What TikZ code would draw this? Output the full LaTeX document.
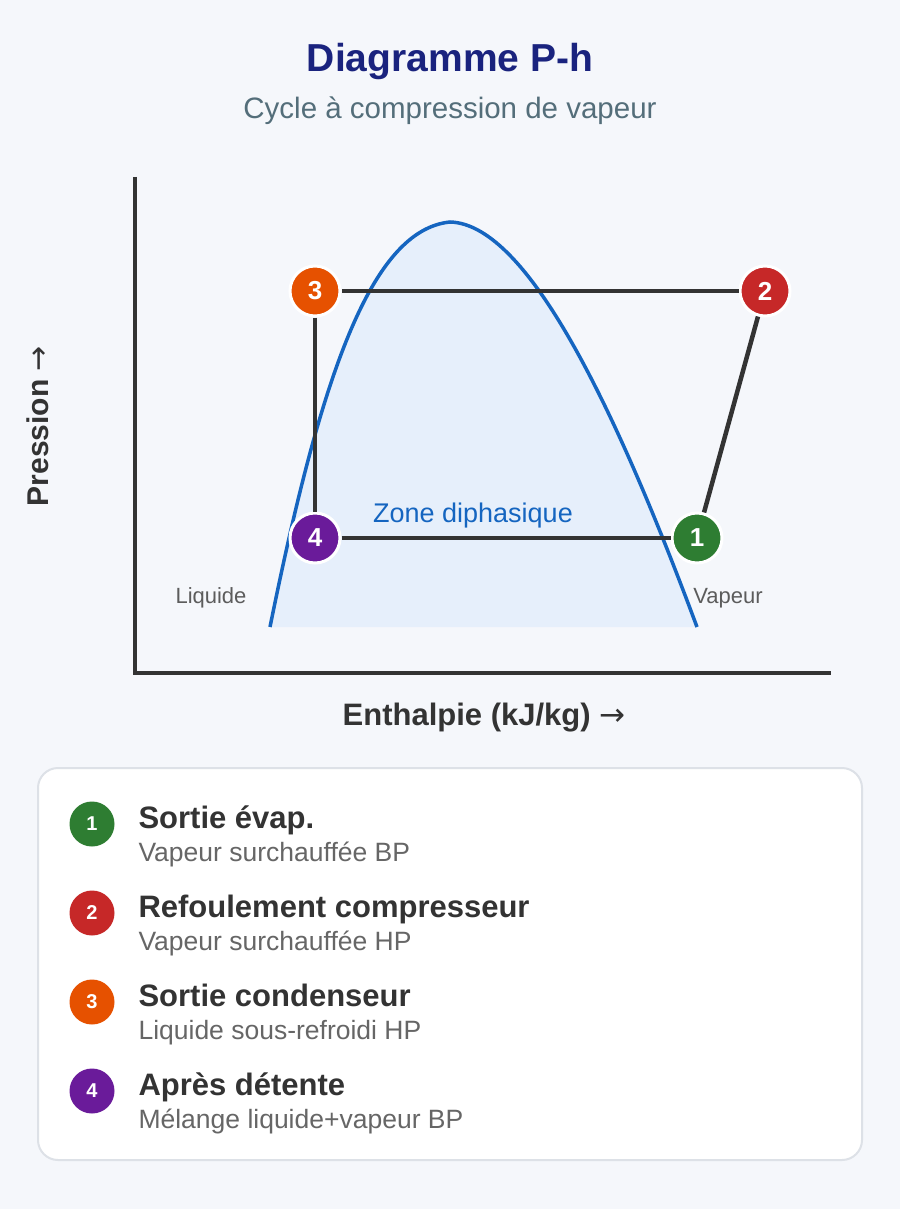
\documentclass[tikz,border=0pt]{standalone}
\usepackage{fontspec}
\setmainfont{Liberation Sans}
\newfontfamily\arrowfont{DejaVu Sans}
\definecolor{bgpage}{HTML}{F5F7FB}
\definecolor{navy}{HTML}{1A237E}
\definecolor{slate}{HTML}{546E7A}
\definecolor{ink}{HTML}{333333}
\definecolor{muted}{HTML}{666666}
\definecolor{domeblue}{HTML}{1565C0}
\definecolor{domefill}{HTML}{E6EFFB}
\definecolor{boxline}{HTML}{DDE1E7}
\definecolor{cgreen}{HTML}{2E7D32}
\definecolor{cred}{HTML}{C62828}
\definecolor{corange}{HTML}{E65100}
\definecolor{cpurple}{HTML}{6A1B9A}
\newcommand\px[1]{\fontsize{#1}{#1}\selectfont}
\newcommand\domecurve{(270,627) .. controls (320,380) and (370,230) .. (450,222) .. controls (530,224) and (620,420) .. (697,627)}

\begin{document}
\begin{tikzpicture}[x=1pt,y=-1pt,
  state/.style={circle,draw=white,line width=3pt,minimum size=50pt,inner sep=0pt,text=white,font=\px{26}\bfseries},
  legdot/.style={circle,minimum size=45pt,inner sep=0pt,text=white,font=\px{20}\bfseries},
  cycleline/.style={draw=ink,line width=4.5pt},
  axisline/.style={draw=ink,line width=4pt},
  side/.style={text=ink!80,font=\px{22}}]
\fill[bgpage] (0,0) rectangle (900,1209);
\useasboundingbox (0,0) rectangle (900,1209);
% titles
\node[text=navy,font=\px{39}\bfseries] (title) at (450,62) {Diagramme P-h};
\node[text=slate,font=\px{29.5}] (subtitle) at (450,111) {Cycle à compression de vapeur};
% axes
\coordinate (O) at (135,673);
\coordinate (ytop) at (135,177);
\coordinate (xend) at (831,673);
\draw[axisline] (ytop) -- (O) -- (xend);
\node[text=ink,font=\px{31}\bfseries] (xlab) at (484,718) {Enthalpie (kJ/kg) {\arrowfont\mdseries →}};
\node[text=ink,font=\px{30}\bfseries,rotate=90] (ylab) at (38,426) {Pression {\arrowfont\mdseries →}};
% saturation dome
\fill[domefill] \domecurve -- cycle;
\draw[domeblue,line width=3.5pt] \domecurve;
\node[text=domeblue,font=\px{27}] (zone) at (473,516) {Zone diphasique};
\node[side] (liq) at (211,598) {Liquide};
\node[side] (vap) at (728,598) {Vapeur};
% cycle
\node[state,fill=cgreen] (p1) at (697,538) {1};
\node[state,fill=cred] (p2) at (765,291) {2};
\node[state,fill=corange] (p3) at (315,291) {3};
\node[state,fill=cpurple] (p4) at (315,538) {4};
\draw[cycleline] (p1) -- (p2);
\draw[cycleline] (p2) -- (p3);
\draw[cycleline] (p3) -- (p4);
\draw[cycleline] (p4) -- (p1);
% legend
\draw[fill=white,draw=boxline,line width=2pt,rounded corners=20pt] (38,768) rectangle (862,1160);
\foreach \n/\col/\head/\desc in {1/cgreen/Sortie évap./Vapeur surchauffée BP,
    2/cred/Refoulement compresseur/Vapeur surchauffée HP,
    3/corange/Sortie condenseur/Liquide sous-refroidi HP,
    4/cpurple/Après détente/Mélange liquide+vapeur BP} {
\node[legdot,fill=\col] (leg\n) at (92,{824+89*(\n-1)}) {\n};
\node[anchor=base west,text=ink,font=\px{31}\bfseries] (head\n) at (135,{828+89*(\n-1)}) {\head};
\node[anchor=base west,text=muted,font=\px{26.5}] (desc\n) at (135,{861+89*(\n-1)}) {\desc};
}
\end{tikzpicture}
\end{document}
